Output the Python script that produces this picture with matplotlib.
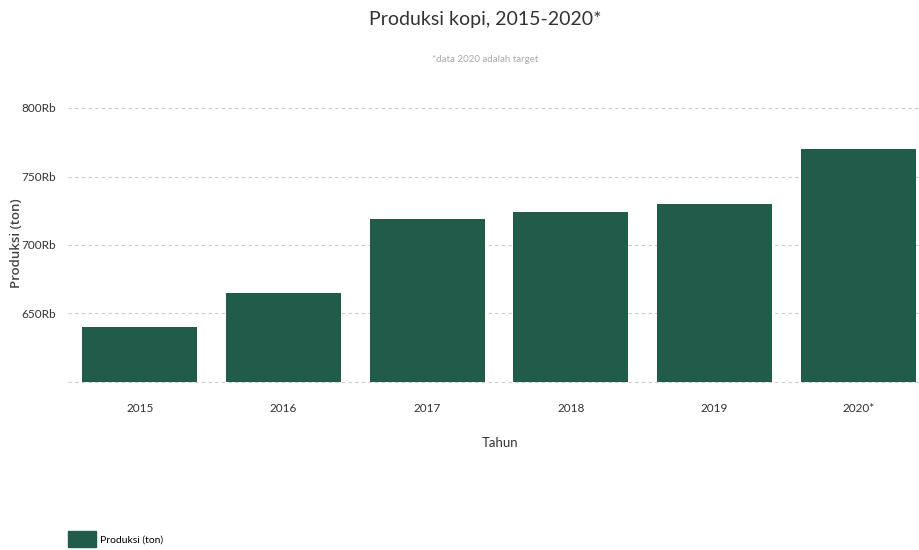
import matplotlib.pyplot as plt
from matplotlib.patches import Patch

tahun = ['2015', '2016', '2017', '2018', '2019', '2020*']
produksi = [640, 665, 719, 724, 730, 770]  # ribu ton
y_ticks = [650, 700, 750, 800]

BAR = '#215c4a'
FONT = ['Lato', 'DejaVu Sans']


def main():
    fig = plt.figure(figsize=(9.2, 5.5), dpi=100)
    ax = fig.add_axes([68 / 920, 1 - 382 / 550, 862 / 920, 274 / 550])

    x = range(len(tahun))
    ax.bar(x, produksi, width=0.8, color=BAR, zorder=2)
    ax.set_xlim(-0.5, len(tahun) - 0.5)
    ax.set_ylim(600, 800)

    ax.set_yticks(y_ticks)
    ax.set_yticklabels([f'{v}Rb' for v in y_ticks], family=FONT, fontsize=8.5, color='#333333')
    ax.set_xticks(list(x))
    ax.set_xticklabels(tahun, family=FONT, fontsize=8.5, color='#333333')
    ax.tick_params(length=0)
    ax.tick_params(axis='y', pad=9)
    ax.tick_params(axis='x', pad=15)

    for v in [600] + y_ticks:
        ax.axhline(v, color='#cccccc', linestyle=(0, (3, 3)), linewidth=0.8, zorder=1, clip_on=False)
    for s in ax.spines.values():
        s.set_visible(False)

    ax.set_xlabel('Tahun', family=FONT, fontsize=9.5, color='#333333', va='center')
    ax.xaxis.set_label_coords((500 - 68) / 862, -(443 - 382) / 274)
    ax.set_ylabel('Produksi (ton)', family=['Open Sans', 'DejaVu Sans'], fontweight='semibold',
                  fontsize=9.5, color='#444444', va='center')
    ax.yaxis.set_label_coords(-(68 - 16) / 862, (382 - 243) / 274)

    fig.text(485 / 920, 1 - 20 / 550, 'Produksi kopi, 2015-2020*', family=FONT, fontsize=14,
             color='#333333', ha='center', va='center')
    fig.text(485 / 920, 1 - 60 / 550, '*data 2020 adalah target', family=FONT, fontsize=7,
             color='#aaaaaa', ha='center', va='center')

    fig.legend(handles=[Patch(color=BAR, label='Produksi (ton)')], loc='lower left',
               bbox_to_anchor=(68 / 920, 3 / 550), frameon=False, borderpad=0, borderaxespad=0,
               handlelength=2.7, handleheight=2.0, handletextpad=0.4,
               prop={'family': FONT, 'size': 7.5})

    fig.savefig('out.png', dpi=100)


if __name__ == '__main__':
    main()
